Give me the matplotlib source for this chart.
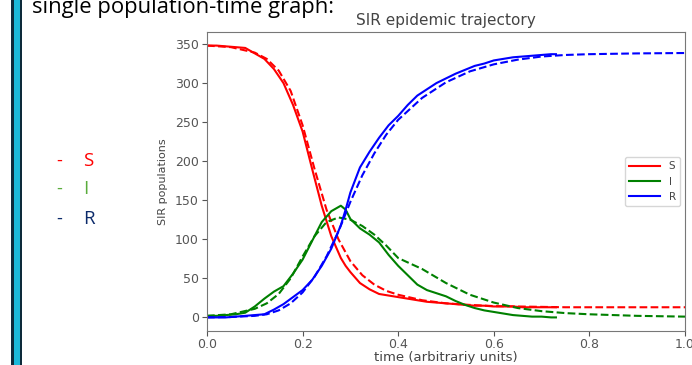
import matplotlib
matplotlib.use('Agg')
import matplotlib.pyplot as plt

# ─────────────────────────────────────────────
# DATA
# ─────────────────────────────────────────────

# stochastic run (solid lines)
t_sim = [0.00, 0.02, 0.04, 0.06, 0.08, 0.10, 0.12, 0.14, 0.16, 0.18,
         0.20, 0.22, 0.24, 0.26, 0.28, 0.29, 0.30, 0.32, 0.34, 0.36,
         0.38, 0.40, 0.42, 0.44, 0.46, 0.48, 0.50, 0.52, 0.54, 0.56,
         0.58, 0.60, 0.62, 0.64, 0.66, 0.68, 0.70, 0.72, 0.73]
S_sim = [348, 348, 347, 346, 345, 338, 331, 318, 300, 272,
         238, 190, 143, 104, 76, 66, 58, 44, 36, 30,
         28, 26, 24, 22, 20, 19, 18, 17, 16, 15,
         15, 14, 14, 14, 13, 13, 13, 13, 13]
I_sim = [2, 2, 3, 4, 6, 14, 24, 33, 40, 56,
         74, 98, 122, 136, 143, 138, 126, 114, 106, 96,
         80, 66, 54, 42, 35, 31, 27, 21, 16, 12,
         9, 7, 5, 3, 2, 1, 1, 0, 0]
R_sim = [0, 0, 0, 1, 2, 3, 4, 10, 17, 26,
         35, 48, 66, 88, 118, 138, 160, 192, 212, 230,
         246, 258, 272, 284, 292, 300, 306, 312, 317, 322,
         325, 329, 331, 333, 334, 335, 336, 337, 337]

# deterministic model (dashed lines)
t_ode = [0.00, 0.05, 0.10, 0.125, 0.15, 0.175, 0.20, 0.225, 0.25, 0.275,
         0.30, 0.325, 0.35, 0.375, 0.40, 0.45, 0.50, 0.55, 0.60, 0.65,
         0.70, 0.75, 0.80, 0.90, 1.00]
S_ode = [348, 346, 339, 331, 316, 290, 246, 190, 138, 100,
         72, 54, 42, 34, 29, 22, 18, 16, 14.5, 14,
         13.5, 13, 13, 13, 13]
I_ode = [2, 4, 11, 18, 30, 50, 78, 104, 122, 128,
         125, 117, 106, 92, 76, 62, 44, 29, 19, 12,
         8, 5.5, 4, 2, 1]
R_ode = [0, 0.5, 2, 4, 9, 18, 32, 52, 78, 110,
         148, 182, 210, 234, 253, 281, 301, 315, 324, 330,
         334, 336, 337, 338, 338.5]

labels = ['S', 'I', 'R']
line_colours = ['r', 'g', 'b']

# ─────────────────────────────────────────────
# FIGURE (slide screenshot)
# ─────────────────────────────────────────────

fig = plt.figure(figsize=(6.92, 3.65), dpi=100)
fig.patch.set_facecolor('white')

# slide accent bar on the left
fig.patches.append(plt.Rectangle((11 / 692, 0), 11 / 692, 1, transform=fig.transFigure,
                                 facecolor='#0d2a3a', edgecolor='none'))
fig.patches.append(plt.Rectangle((14 / 692, 0), 6 / 692, 1, transform=fig.transFigure,
                                 facecolor='#1bb8d8', edgecolor='none'))

# slide text
fig.text(32 / 692, 1 - 13 / 365, "single population-time graph:", fontsize=15.8,
         family='Open Sans', color='black', ha='left', va='baseline')

side_colours = ['#ff0000', '#5aac3c', '#0b2a6a']
side_y = [161, 189, 219]
for lab, col, yy in zip(labels, side_colours, side_y):
    fig.text(56 / 692, 1 - yy / 365, "-", fontsize=13, family='Open Sans',
             color=col, ha='left', va='center')
    fig.text(83 / 692, 1 - yy / 365, lab, fontsize=13.5, family='Open Sans',
             color=col, ha='left', va='center')

# ─────────────────────────────────────────────
# PLOT
# ─────────────────────────────────────────────

ax = fig.add_axes([207 / 692, 1 - 331 / 365, (685 - 207) / 692, (331 - 32) / 365])

sims = [S_sim, I_sim, R_sim]
odes = [S_ode, I_ode, R_ode]
for lab, col, ys, yd in zip(labels, line_colours, sims, odes):
    ax.plot(t_sim, ys, color=col, lw=1.5, label=lab)
    ax.plot(t_ode, yd, color=col, lw=1.5, ls='--')

ax.set_xlim(0, 1.0)
ax.set_ylim(-17.4, 365.4)
ax.set_xticks([0.0, 0.2, 0.4, 0.6, 0.8, 1.0])
ax.set_yticks([0, 50, 100, 150, 200, 250, 300, 350])

grey = '#555555'
for sp in ax.spines.values():
    sp.set_color('#777777')
ax.tick_params(colors=grey, labelsize=9, labelcolor=grey, length=3.5)
ax.tick_params(axis='x', pad=1.5)
ax.tick_params(axis='y', pad=2.5)

ax.set_title("SIR epidemic trajectory", fontsize=11, color='#444444', pad=5)
ax.set_xlabel("time (arbitrariy units)", fontsize=9.5, color='#444444', labelpad=0)
ax.set_ylabel("SIR populations", fontsize=8, color='#444444', labelpad=5)

ax.legend(loc='center right', fontsize=7.5, handlelength=3, labelcolor='#444444',
          borderaxespad=0.5)

fig.savefig('out.png', dpi=100)
